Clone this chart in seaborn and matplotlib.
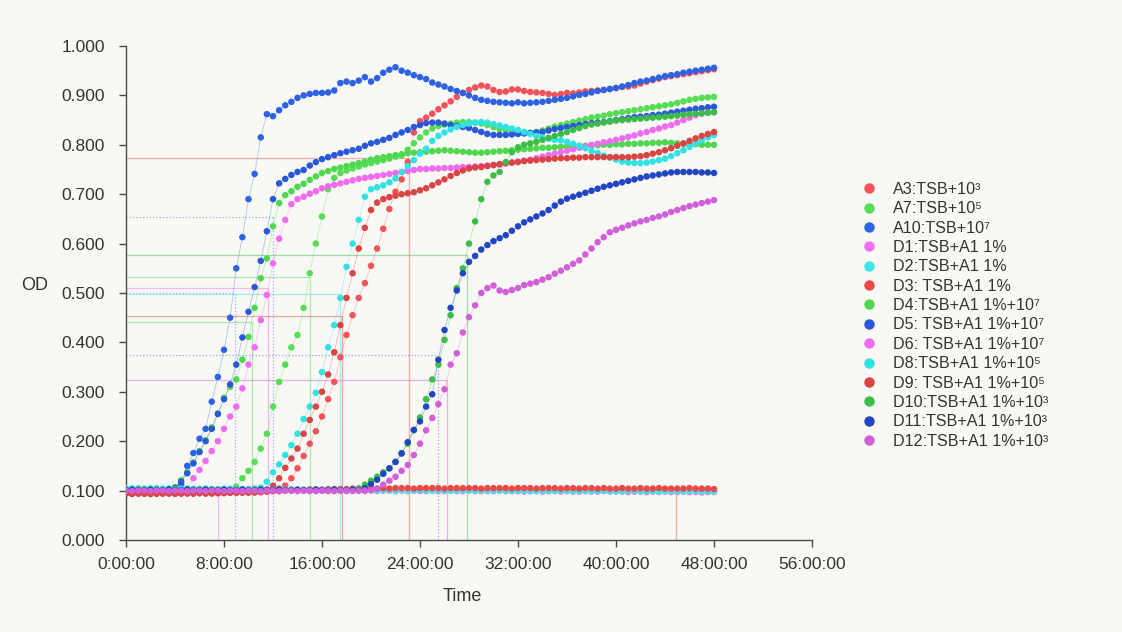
import matplotlib
matplotlib.use("Agg")
import matplotlib.pyplot as plt
from matplotlib.lines import Line2D
from matplotlib.ticker import FuncFormatter
import seaborn as sns
import numpy as np
import pandas as pd

# =====================================================================
# COLORES Y ESTILO
# =====================================================================
FONDO = "#f8f8f5"
GRIS_EJES = "#4a4a4a"
GRIS_TEXTO = "#333333"

# eje de tiempo comun: lecturas cada media hora, 0 a 48 h
horas = np.arange(0, 48.5, 0.5)

# =====================================================================
# DATOS (OD, una lista por pocillo)
# =====================================================================
od_a3 = [0.094, 0.095, 0.094, 0.094, 0.095, 0.094, 0.094, 0.095, 0.094, 0.094,
         0.095, 0.094, 0.095, 0.095, 0.094, 0.095, 0.095, 0.096, 0.096, 0.096,
         0.096, 0.097, 0.097, 0.098, 0.100, 0.104, 0.110, 0.125, 0.145, 0.170,
         0.195, 0.220, 0.250, 0.285, 0.320, 0.370, 0.415, 0.455, 0.490, 0.520,
         0.555, 0.590, 0.630, 0.670, 0.705, 0.730, 0.765, 0.825, 0.848, 0.855,
         0.863, 0.872, 0.880, 0.888, 0.897, 0.905, 0.911, 0.916, 0.920, 0.918,
         0.911, 0.907, 0.908, 0.912, 0.912, 0.909, 0.907, 0.906, 0.905, 0.903,
         0.901, 0.903, 0.905, 0.904, 0.906, 0.908, 0.909, 0.910, 0.911, 0.913,
         0.915, 0.917, 0.918, 0.920, 0.924, 0.928, 0.931, 0.934, 0.937, 0.939,
         0.941, 0.943, 0.945, 0.947, 0.949, 0.951, 0.953]

od_a7 = [0.100, 0.101, 0.100, 0.100, 0.101, 0.100, 0.100, 0.101, 0.100, 0.100,
         0.101, 0.100, 0.100, 0.101, 0.100, 0.100, 0.101, 0.102, 0.108, 0.125,
         0.140, 0.158, 0.185, 0.215, 0.270, 0.320, 0.355, 0.390, 0.415, 0.470,
         0.540, 0.600, 0.655, 0.710, 0.733, 0.743, 0.748, 0.752, 0.756, 0.760,
         0.763, 0.766, 0.769, 0.772, 0.776, 0.779, 0.790, 0.803, 0.815, 0.825,
         0.833, 0.838, 0.841, 0.843, 0.845, 0.846, 0.846, 0.845, 0.843, 0.840,
         0.836, 0.832, 0.829, 0.827, 0.825, 0.824, 0.824, 0.826, 0.829, 0.833,
         0.837, 0.840, 0.843, 0.846, 0.849, 0.852, 0.855, 0.857, 0.859, 0.862,
         0.864, 0.866, 0.868, 0.870, 0.872, 0.874, 0.876, 0.878, 0.880, 0.882,
         0.885, 0.888, 0.891, 0.893, 0.895, 0.896, 0.897]

od_a10 = [0.100, 0.101, 0.100, 0.099, 0.100, 0.101, 0.100, 0.101, 0.102, 0.112,
          0.150, 0.176, 0.205, 0.225, 0.280, 0.330, 0.385, 0.450, 0.550, 0.613,
          0.690, 0.741, 0.815, 0.862, 0.858, 0.870, 0.880, 0.887, 0.895, 0.900,
          0.903, 0.905, 0.905, 0.906, 0.910, 0.925, 0.928, 0.925, 0.930, 0.937,
          0.928, 0.935, 0.946, 0.952, 0.957, 0.950, 0.946, 0.941, 0.937, 0.933,
          0.926, 0.922, 0.918, 0.913, 0.909, 0.905, 0.900, 0.895, 0.891, 0.889,
          0.887, 0.886, 0.885, 0.884, 0.886, 0.884, 0.885, 0.886, 0.887, 0.889,
          0.891, 0.893, 0.895, 0.898, 0.901, 0.903, 0.906, 0.909, 0.911, 0.913,
          0.915, 0.918, 0.921, 0.925, 0.928, 0.930, 0.933, 0.936, 0.939, 0.941,
          0.943, 0.946, 0.948, 0.950, 0.952, 0.954, 0.956]

od_d1 = [0.101, 0.100, 0.101, 0.100, 0.100, 0.101, 0.100, 0.101, 0.100, 0.100,
         0.101, 0.100, 0.100, 0.101, 0.100, 0.100, 0.101, 0.100, 0.100, 0.101,
         0.100, 0.100, 0.101, 0.100, 0.099, 0.100, 0.100, 0.101, 0.100, 0.100,
         0.099, 0.100, 0.100, 0.099, 0.100, 0.100, 0.099, 0.100, 0.100, 0.099,
         0.100, 0.099, 0.100, 0.100, 0.099, 0.100, 0.099, 0.100, 0.099, 0.099,
         0.100, 0.099, 0.099, 0.100, 0.099, 0.099, 0.100, 0.099, 0.099, 0.099,
         0.099, 0.100, 0.099, 0.099, 0.099, 0.098, 0.099, 0.099, 0.098, 0.099,
         0.099, 0.098, 0.099, 0.098, 0.098, 0.099, 0.098, 0.098, 0.099, 0.098,
         0.098, 0.098, 0.097, 0.098, 0.098, 0.097, 0.098, 0.097, 0.098, 0.097,
         0.097, 0.098, 0.097, 0.097, 0.096, 0.097, 0.097]

od_d2 = [0.105, 0.104, 0.105, 0.104, 0.104, 0.105, 0.104, 0.104, 0.103, 0.104,
         0.103, 0.104, 0.103, 0.103, 0.102, 0.103, 0.103, 0.102, 0.103, 0.102,
         0.102, 0.103, 0.102, 0.102, 0.102, 0.101, 0.102, 0.102, 0.101, 0.102,
         0.101, 0.102, 0.101, 0.101, 0.102, 0.101, 0.101, 0.101, 0.100, 0.101,
         0.101, 0.100, 0.101, 0.101, 0.100, 0.101, 0.100, 0.100, 0.101, 0.100,
         0.100, 0.101, 0.100, 0.100, 0.100, 0.101, 0.100, 0.100, 0.100, 0.100,
         0.100, 0.100, 0.100, 0.099, 0.100, 0.100, 0.100, 0.099, 0.100, 0.100,
         0.099, 0.100, 0.100, 0.099, 0.099, 0.100, 0.099, 0.099, 0.100, 0.099,
         0.099, 0.099, 0.099, 0.100, 0.099, 0.099, 0.099, 0.098, 0.099, 0.099,
         0.099, 0.098, 0.099, 0.099, 0.098, 0.099, 0.098]

od_d3 = [0.094, 0.093, 0.094, 0.094, 0.093, 0.094, 0.094, 0.095, 0.094, 0.094,
         0.095, 0.094, 0.095, 0.095, 0.095, 0.095, 0.096, 0.096, 0.096, 0.097,
         0.097, 0.097, 0.098, 0.098, 0.099, 0.099, 0.100, 0.100, 0.101, 0.101,
         0.102, 0.102, 0.102, 0.103, 0.103, 0.103, 0.103, 0.104, 0.104, 0.104,
         0.104, 0.104, 0.105, 0.104, 0.105, 0.105, 0.105, 0.104, 0.105, 0.105,
         0.105, 0.105, 0.104, 0.105, 0.105, 0.105, 0.105, 0.105, 0.104, 0.105,
         0.105, 0.105, 0.105, 0.104, 0.105, 0.105, 0.105, 0.104, 0.105, 0.105,
         0.105, 0.104, 0.105, 0.105, 0.104, 0.105, 0.105, 0.104, 0.105, 0.104,
         0.104, 0.105, 0.104, 0.104, 0.105, 0.104, 0.104, 0.105, 0.104, 0.104,
         0.104, 0.104, 0.105, 0.104, 0.104, 0.104, 0.103]

od_d4 = [0.100, 0.101, 0.100, 0.100, 0.101, 0.100, 0.101, 0.100, 0.107, 0.121,
         0.137, 0.157, 0.180, 0.202, 0.228, 0.256, 0.288, 0.310, 0.325, 0.365,
         0.411, 0.470, 0.530, 0.570, 0.635, 0.682, 0.698, 0.706, 0.715, 0.721,
         0.729, 0.736, 0.743, 0.747, 0.751, 0.754, 0.757, 0.760, 0.763, 0.766,
         0.770, 0.773, 0.775, 0.777, 0.779, 0.781, 0.783, 0.784, 0.785, 0.786,
         0.787, 0.788, 0.789, 0.788, 0.787, 0.786, 0.785, 0.784, 0.784, 0.785,
         0.786, 0.787, 0.788, 0.789, 0.790, 0.791, 0.792, 0.793, 0.794, 0.794,
         0.795, 0.796, 0.797, 0.797, 0.798, 0.798, 0.799, 0.799, 0.800, 0.800,
         0.801, 0.801, 0.802, 0.802, 0.803, 0.803, 0.804, 0.804, 0.805, 0.804,
         0.803, 0.802, 0.801, 0.801, 0.800, 0.800, 0.800]

od_d5 = [0.100, 0.100, 0.101, 0.100, 0.100, 0.101, 0.100, 0.100, 0.105, 0.118,
         0.135, 0.155, 0.178, 0.200, 0.225, 0.255, 0.285, 0.315, 0.355, 0.410,
         0.462, 0.512, 0.565, 0.625, 0.690, 0.722, 0.731, 0.739, 0.745, 0.749,
         0.758, 0.765, 0.771, 0.775, 0.779, 0.783, 0.786, 0.789, 0.792, 0.798,
         0.803, 0.806, 0.810, 0.814, 0.820, 0.825, 0.830, 0.836, 0.840, 0.844,
         0.845, 0.845, 0.843, 0.840, 0.838, 0.836, 0.834, 0.830, 0.826, 0.822,
         0.820, 0.820, 0.820, 0.821, 0.822, 0.823, 0.824, 0.825, 0.826, 0.829,
         0.832, 0.834, 0.836, 0.838, 0.840, 0.842, 0.844, 0.845, 0.846, 0.848,
         0.850, 0.852, 0.854, 0.856, 0.857, 0.858, 0.860, 0.861, 0.863, 0.865,
         0.867, 0.869, 0.871, 0.873, 0.874, 0.876, 0.877]

od_d6 = [0.100, 0.099, 0.100, 0.100, 0.099, 0.100, 0.100, 0.099, 0.100, 0.100,
         0.103, 0.125, 0.142, 0.160, 0.180, 0.200, 0.225, 0.250, 0.270, 0.307,
         0.355, 0.390, 0.445, 0.496, 0.560, 0.610, 0.648, 0.680, 0.690, 0.695,
         0.701, 0.706, 0.712, 0.716, 0.719, 0.722, 0.725, 0.728, 0.731, 0.733,
         0.735, 0.737, 0.739, 0.741, 0.743, 0.745, 0.747, 0.749, 0.751, 0.751,
         0.752, 0.752, 0.753, 0.753, 0.754, 0.755, 0.755, 0.756, 0.757, 0.758,
         0.759, 0.760, 0.762, 0.764, 0.766, 0.768, 0.770, 0.773, 0.776, 0.779,
         0.782, 0.785, 0.788, 0.791, 0.794, 0.797, 0.800, 0.802, 0.805, 0.807,
         0.810, 0.813, 0.816, 0.819, 0.823, 0.826, 0.830, 0.833, 0.837, 0.840,
         0.845, 0.850, 0.855, 0.860, 0.863, 0.865, 0.866]

od_d8 = [0.103, 0.104, 0.103, 0.103, 0.104, 0.103, 0.103, 0.104, 0.103, 0.103,
         0.104, 0.103, 0.103, 0.104, 0.103, 0.103, 0.103, 0.104, 0.103, 0.103,
         0.103, 0.104, 0.106, 0.118, 0.137, 0.153, 0.172, 0.192, 0.215, 0.245,
         0.270, 0.298, 0.340, 0.390, 0.435, 0.490, 0.553, 0.600, 0.648, 0.695,
         0.710, 0.714, 0.718, 0.724, 0.732, 0.745, 0.757, 0.769, 0.782, 0.792,
         0.808, 0.818, 0.825, 0.831, 0.836, 0.840, 0.843, 0.845, 0.846, 0.845,
         0.842, 0.839, 0.836, 0.833, 0.830, 0.826, 0.822, 0.818, 0.815, 0.812,
         0.810, 0.809, 0.806, 0.802, 0.798, 0.793, 0.788, 0.783, 0.778, 0.774,
         0.770, 0.766, 0.764, 0.763, 0.763, 0.764, 0.766, 0.769, 0.772, 0.777,
         0.783, 0.789, 0.796, 0.803, 0.809, 0.815, 0.820]

od_d9 = [0.094, 0.094, 0.095, 0.094, 0.094, 0.094, 0.095, 0.094, 0.094, 0.095,
         0.094, 0.095, 0.095, 0.094, 0.095, 0.095, 0.095, 0.096, 0.096, 0.096,
         0.096, 0.096, 0.097, 0.102, 0.110, 0.125, 0.146, 0.165, 0.185, 0.215,
         0.243, 0.270, 0.300, 0.335, 0.380, 0.435, 0.490, 0.540, 0.590, 0.632,
         0.668, 0.683, 0.690, 0.694, 0.697, 0.700, 0.702, 0.704, 0.708, 0.712,
         0.718, 0.724, 0.730, 0.737, 0.743, 0.748, 0.752, 0.754, 0.755, 0.757,
         0.759, 0.761, 0.763, 0.764, 0.765, 0.767, 0.768, 0.769, 0.770, 0.771,
         0.772, 0.773, 0.773, 0.774, 0.774, 0.775, 0.775, 0.775, 0.775, 0.775,
         0.775, 0.775, 0.775, 0.776, 0.777, 0.779, 0.782, 0.785, 0.789, 0.793,
         0.798, 0.803, 0.808, 0.813, 0.818, 0.822, 0.826]

od_d10 = [0.102, 0.101, 0.102, 0.102, 0.101, 0.102, 0.101, 0.102, 0.102, 0.101,
          0.102, 0.101, 0.102, 0.101, 0.102, 0.101, 0.102, 0.101, 0.101, 0.102,
          0.101, 0.102, 0.101, 0.101, 0.102, 0.101, 0.101, 0.102, 0.101, 0.101,
          0.102, 0.101, 0.101, 0.102, 0.101, 0.102, 0.101, 0.102, 0.104, 0.112,
          0.120, 0.128, 0.137, 0.145, 0.158, 0.176, 0.195, 0.222, 0.248, 0.285,
          0.325, 0.355, 0.405, 0.455, 0.510, 0.550, 0.600, 0.645, 0.690, 0.725,
          0.738, 0.745, 0.765, 0.785, 0.795, 0.800, 0.803, 0.806, 0.810, 0.814,
          0.818, 0.822, 0.826, 0.830, 0.834, 0.838, 0.841, 0.843, 0.845, 0.847,
          0.849, 0.850, 0.851, 0.852, 0.853, 0.854, 0.855, 0.856, 0.857, 0.858,
          0.859, 0.861, 0.862, 0.863, 0.864, 0.865, 0.866]

od_d11 = [0.101, 0.102, 0.101, 0.101, 0.102, 0.101, 0.101, 0.102, 0.101, 0.101,
          0.102, 0.101, 0.101, 0.102, 0.101, 0.101, 0.102, 0.101, 0.101, 0.102,
          0.101, 0.101, 0.102, 0.101, 0.101, 0.102, 0.101, 0.101, 0.102, 0.101,
          0.101, 0.102, 0.101, 0.101, 0.102, 0.101, 0.101, 0.102, 0.101, 0.105,
          0.113, 0.122, 0.134, 0.145, 0.158, 0.175, 0.198, 0.223, 0.240, 0.270,
          0.295, 0.365, 0.425, 0.470, 0.505, 0.540, 0.563, 0.575, 0.588, 0.597,
          0.605, 0.611, 0.617, 0.626, 0.635, 0.643, 0.649, 0.655, 0.661, 0.668,
          0.677, 0.685, 0.691, 0.695, 0.699, 0.703, 0.707, 0.711, 0.715, 0.718,
          0.721, 0.724, 0.727, 0.730, 0.733, 0.736, 0.738, 0.740, 0.742, 0.744,
          0.745, 0.745, 0.745, 0.745, 0.744, 0.744, 0.743]

od_d12 = [0.100, 0.099, 0.100, 0.100, 0.099, 0.100, 0.100, 0.099, 0.100, 0.100,
          0.099, 0.100, 0.100, 0.099, 0.100, 0.100, 0.099, 0.100, 0.100, 0.099,
          0.100, 0.100, 0.099, 0.100, 0.100, 0.099, 0.100, 0.100, 0.099, 0.100,
          0.100, 0.099, 0.100, 0.100, 0.099, 0.100, 0.100, 0.099, 0.100, 0.100,
          0.101, 0.104, 0.112, 0.120, 0.128, 0.140, 0.152, 0.172, 0.195, 0.222,
          0.247, 0.275, 0.305, 0.355, 0.378, 0.420, 0.451, 0.475, 0.500, 0.510,
          0.515, 0.505, 0.502, 0.506, 0.510, 0.516, 0.519, 0.522, 0.527, 0.532,
          0.539, 0.545, 0.552, 0.559, 0.566, 0.578, 0.590, 0.603, 0.613, 0.623,
          0.628, 0.632, 0.637, 0.641, 0.645, 0.648, 0.652, 0.655, 0.659, 0.664,
          0.668, 0.672, 0.676, 0.679, 0.682, 0.685, 0.688]

pocillos = ["A3", "A7", "A10", "D1", "D2", "D3", "D4", "D5", "D6",
            "D8", "D9", "D10", "D11", "D12"]
etiquetas = ["A3:TSB+10³", "A7:TSB+10⁵", "A10:TSB+10⁷",
             "D1:TSB+A1 1%", "D2:TSB+A1 1%", "D3: TSB+A1 1%",
             "D4:TSB+A1 1%+10⁷", "D5: TSB+A1 1%+10⁷", "D6: TSB+A1 1%+10⁷",
             "D8:TSB+A1 1%+10⁵", "D9: TSB+A1 1%+10⁵",
             "D10:TSB+A1 1%+10³", "D11:TSB+A1 1%+10³", "D12:TSB+A1 1%+10³"]
colores = ["#f0535a", "#55dd55", "#2d62e2", "#f26ef2", "#3fe6e6", "#ec4a4a",
           "#4fd84f", "#2a58d6", "#ee6cee", "#30e2e2", "#d94444",
           "#3cbc48", "#2246c2", "#d25fd8"]
lecturas = [od_a3, od_a7, od_a10, od_d1, od_d2, od_d3, od_d4, od_d5, od_d6,
            od_d8, od_d9, od_d10, od_d11, od_d12]

# lineas de umbral del lector (tiempo en h y OD del umbral)
umbral_pocillo = ["D1", "A10", "D4", "D6", "D5", "A7", "D9", "D8",
                  "A3", "D11", "D12", "D10", "D3"]
umbral_horas = [7.5, 8.9, 10.3, 11.6, 12.0, 15.0, 17.6, 17.5,
                23.1, 25.5, 26.2, 27.8, 44.9]
umbral_od = [0.100, 0.500, 0.441, 0.510, 0.654, 0.533, 0.453, 0.498,
             0.773, 0.374, 0.324, 0.577, 0.100]

# tabla larga para seaborn
tabla = pd.DataFrame({
    "Time": np.tile(horas, len(pocillos)),
    "OD": np.concatenate([np.array(v, dtype=float) for v in lecturas]),
    "pocillo": np.repeat(pocillos, len(horas)),
})
paleta = dict(zip(pocillos, colores))

sns.set_theme(style="ticks")
plt.rcParams["font.family"] = ["Liberation Sans", "DejaVu Sans"]

fig = plt.figure(figsize=(11.22, 6.32), dpi=100, facecolor=FONDO)
ax = fig.add_axes([0.1123, 0.1456, 0.6114, 0.7816])
ax.set_facecolor(FONDO)

# umbrales: horizontal desde el eje y vertical hasta el eje x
for nombre, h, od in zip(umbral_pocillo, umbral_horas, umbral_od):
    color = paleta[nombre]
    estilo = ":" if nombre in ("A10", "D5", "D11") else "-"
    ax.hlines(od, 0, h, colors=color, linestyles=estilo, linewidth=0.9, alpha=0.45, zorder=1)
    ax.vlines(h, 0, od, colors=color, linestyles=estilo, linewidth=0.9, alpha=0.45, zorder=1)

# union tenue entre lecturas y luego los puntos encima
sns.lineplot(data=tabla, x="Time", y="OD", hue="pocillo", hue_order=pocillos,
             palette=paleta, linewidth=0.6, alpha=0.35, estimator=None, sort=False,
             legend=False, ax=ax, zorder=2)
sns.scatterplot(data=tabla, x="Time", y="OD", hue="pocillo", hue_order=pocillos,
                palette=paleta, s=22, linewidth=0, legend=False, ax=ax, zorder=3)

ax.set_xlim(0, 56)
ax.set_ylim(0, 1)
ax.set_xticks(np.arange(0, 57, 8))
ax.set_yticks(np.arange(0, 1.01, 0.1))
ax.xaxis.set_major_formatter(FuncFormatter(lambda v, p: f"{int(round(v))}:00:00"))
ax.yaxis.set_major_formatter(FuncFormatter(lambda v, p: f"{v:.3f}"))

for spine in ["top", "right"]:
    ax.spines[spine].set_visible(False)
for spine in ["left", "bottom"]:
    ax.spines[spine].set_color(GRIS_EJES)
    ax.spines[spine].set_linewidth(1.0)

ax.tick_params(axis="both", direction="out", length=5, width=1, color=GRIS_EJES,
               labelsize=12.5, labelcolor=GRIS_TEXTO)
ax.tick_params(axis="y", pad=10)
ax.tick_params(axis="x", pad=7)

ax.set_xlabel("Time", fontsize=13, color=GRIS_TEXTO)
ax.xaxis.set_label_coords(0.49, -0.098)
ax.set_ylabel("OD", fontsize=13, color=GRIS_TEXTO, rotation=0, ha="center", va="center")
ax.yaxis.set_label_coords(-0.133, 0.516)

# leyenda solo con circulos, como en el lector
manejadores = [Line2D([], [], marker="o", linestyle="", color=c, markersize=7.5,
                      markeredgewidth=0) for c in colores]
fig.legend(manejadores, etiquetas, loc="upper left",
           bbox_to_anchor=(861 / 1122, 1 - 182 / 632), bbox_transform=fig.transFigure,
           frameon=False, fontsize=11.6, labelcolor=GRIS_TEXTO, handletextpad=1.0,
           handlelength=1.0, labelspacing=0.27, borderpad=0, borderaxespad=0)

fig.savefig("out.png", dpi=100, facecolor=fig.get_facecolor())
plt.close(fig)
